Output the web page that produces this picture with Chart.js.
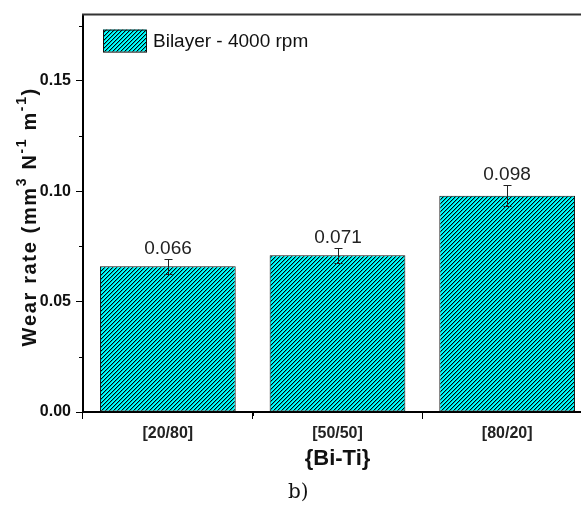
<!DOCTYPE html>
<html>
<head>
<meta charset="utf-8">
<script src="https://cdn.jsdelivr.net/npm/chart.js@4"></script>
<style>
    html, body { margin: 0; padding: 0; background: #fff; overflow: hidden; }
    #wrap { position: relative; width: 581px; height: 506px; overflow: hidden; }
    #box { position: absolute; left: 0; top: 0; width: 600px; height: 506px; }
    #tag { position: absolute; left: 288px; top: 480px; font-family: "DejaVu Serif", serif; font-size: 20px; line-height: 22px; color: #111; }
</style>
</head>
<body>
<div id="wrap">
    <div id="box"><canvas id="wearChart"></canvas></div>
    <div id="tag">b)</div>
</div>
<script>
// dados
const categories = ['[20/80]', '[50/50]', '[80/20]'];
const wearRate = [0.066, 0.071, 0.098];
const wearErr = [0.0034, 0.0035, 0.0049];
const seriesName = 'Bilayer - 4000 rpm';
const yTicks = [0, 0.05, 0.10, 0.15];
const yMinorTicks = [0.025, 0.075, 0.125, 0.175];
// título do eixo y: [texto, sobrescrito?]
const yTitleParts = [['Wear rate (mm', false], ['3', true], [' N', false], ['-1', true], [' m', false], ['-1', true], [')', false]];

const FONT = '"Liberation Sans", Arial, sans-serif';

// padrão hachurado (pixel a pixel)
function makeHatch() {
    const s = 4;
    const p = document.createElement('canvas');
    p.width = s; p.height = s;
    const c = p.getContext('2d');
    c.fillStyle = '#00ffff';
    c.fillRect(0, 0, s, s);
    for (let r = 0; r < s; r++) {
        c.fillStyle = '#000000';
        c.fillRect((s - 1 - r + s) % s, r, 1, 1);
        c.fillStyle = '#00b4b4';
        c.fillRect((s - r + s) % s, r, 1, 1);
    }
    return document.getElementById('wearChart').getContext('2d').createPattern(p, 'repeat');
}
const hatch = makeHatch();

// título do eixo y com sobrescritos
function drawYTitle(ctx, cx, cy, length) {
    const main = 'bold 20px ' + FONT, sup = 'bold 14px ' + FONT;
    let natural = 0, chars = 0;
    yTitleParts.forEach(([t, s]) => {
        ctx.font = s ? sup : main;
        natural += ctx.measureText(t).width;
        chars += t.length;
    });
    const extra = Math.max(0, (length - natural) / chars);
    ctx.save();
    ctx.translate(cx, cy);
    ctx.rotate(-Math.PI / 2);
    ctx.fillStyle = '#111';
    ctx.textAlign = 'left';
    ctx.textBaseline = 'alphabetic';
    let x = -length / 2;
    yTitleParts.forEach(([t, s]) => {
        ctx.font = s ? sup : main;
        for (const ch of t) {
            ctx.fillText(ch, x, s ? -10 : 0);
            x += ctx.measureText(ch).width + extra;
        }
    });
    ctx.restore();
}

// barras de erro, rótulos, legenda e moldura
const extrasPlugin = {
    id: 'extras',
    afterDatasetsDraw(chart) {
        const ctx = chart.ctx;
        const x = chart.scales.x, y = chart.scales.y;
        const area = chart.chartArea;
        ctx.save();

        // error bars + valores
        wearRate.forEach((v, i) => {
            const px = Math.round(x.getPixelForValue(i));
            const top = Math.round(y.getPixelForValue(v + wearErr[i]));
            const bot = Math.round(y.getPixelForValue(v - wearErr[i]));
            ctx.strokeStyle = '#222';
            ctx.lineWidth = 1;
            ctx.beginPath();
            ctx.moveTo(px + 0.5, top); ctx.lineTo(px + 0.5, bot);
            ctx.moveTo(px - 3.5, top + 0.5); ctx.lineTo(px + 4.5, top + 0.5);
            ctx.moveTo(px - 3.5, bot + 0.5); ctx.lineTo(px + 4.5, bot + 0.5);
            ctx.stroke();
            ctx.fillStyle = '#222';
            ctx.font = '19px ' + FONT;
            ctx.textAlign = 'center';
            ctx.textBaseline = 'alphabetic';
            ctx.fillText(v.toFixed(3), px, top - 5);
        });

        // moldura superior
        ctx.strokeStyle = '#333';
        ctx.lineWidth = 2;
        ctx.beginPath();
        ctx.moveTo(area.left - 1, area.top);
        ctx.lineTo(area.right, area.top);
        ctx.lineTo(area.right, area.bottom);
        ctx.stroke();

        // ticks menores
        ctx.lineWidth = 1;
        ctx.strokeStyle = '#000';
        ctx.beginPath();
        yMinorTicks.forEach(v => {
            const py = Math.round(y.getPixelForValue(v)) + 0.5;
            ctx.moveTo(area.left - 4, py); ctx.lineTo(area.left, py);
        });
        for (let i = 0; i < categories.length - 1; i++) {
            const px = Math.round((x.getPixelForValue(i) + x.getPixelForValue(i + 1)) / 2) + 0.5;
            ctx.moveTo(px, area.bottom); ctx.lineTo(px, area.bottom + 4);
        }
        ctx.stroke();

        // legenda
        const bx = area.left + 20, by = area.top + 15;
        ctx.fillStyle = hatch;
        ctx.fillRect(bx, by, 43, 22);
        ctx.strokeStyle = '#111';
        ctx.lineWidth = 1;
        ctx.strokeRect(bx + 0.5, by + 0.5, 43, 22);
        ctx.fillStyle = '#111';
        ctx.font = '19px ' + FONT;
        ctx.textAlign = 'left';
        ctx.textBaseline = 'middle';
        ctx.fillText(seriesName, bx + 50, by + 12);

        // título y
        drawYTitle(ctx, 36, 217, 259);
        ctx.restore();
    }
};

new Chart(document.getElementById('wearChart').getContext('2d'), {
    type: 'bar',
    data: {
        labels: categories,
        datasets: [{
            label: seriesName,
            data: wearRate,
            backgroundColor: hatch,
            borderColor: '#111',
            borderWidth: 1,
            borderSkipped: false,
            categoryPercentage: 0.8,
            barPercentage: 1.0
        }]
    },
    options: {
        responsive: true,
        maintainAspectRatio: false,
        animation: false,
        layout: { padding: { left: 0, right: 8, top: 13, bottom: 34 } },
        plugins: {
            legend: { display: false },
            tooltip: { enabled: false }
        },
        scales: {
            x: {
                offset: true,
                grid: { drawOnChartArea: false, tickLength: 7, tickColor: '#000', tickWidth: 1 },
                border: { color: '#000', width: 2 },
                ticks: {
                    color: '#222',
                    padding: 5,
                    font: { family: FONT, size: 16, weight: 'bold' }
                },
                title: {
                    display: true,
                    text: '{Bi-Ti}',
                    color: '#111',
                    padding: { top: 0, bottom: 0 },
                    font: { family: FONT, size: 22, weight: 'bold' }
                },
                afterFit(scale) { scale.height = 60; }
            },
            y: {
                min: 0,
                max: 0.18,
                grid: { drawOnChartArea: false, tickLength: 7, tickColor: '#000', tickWidth: 1 },
                border: { color: '#000', width: 2 },
                afterBuildTicks(scale) { scale.ticks = yTicks.map(v => ({ value: v })); },
                ticks: {
                    color: '#111',
                    padding: 5,
                    callback: v => Number(v).toFixed(2),
                    font: { family: FONT, size: 16, weight: 'bold' }
                },
                title: { display: false },
                afterFit(scale) { scale.width = 83; }
            }
        }
    },
    plugins: [extrasPlugin]
});
</script>
</body>
</html>
